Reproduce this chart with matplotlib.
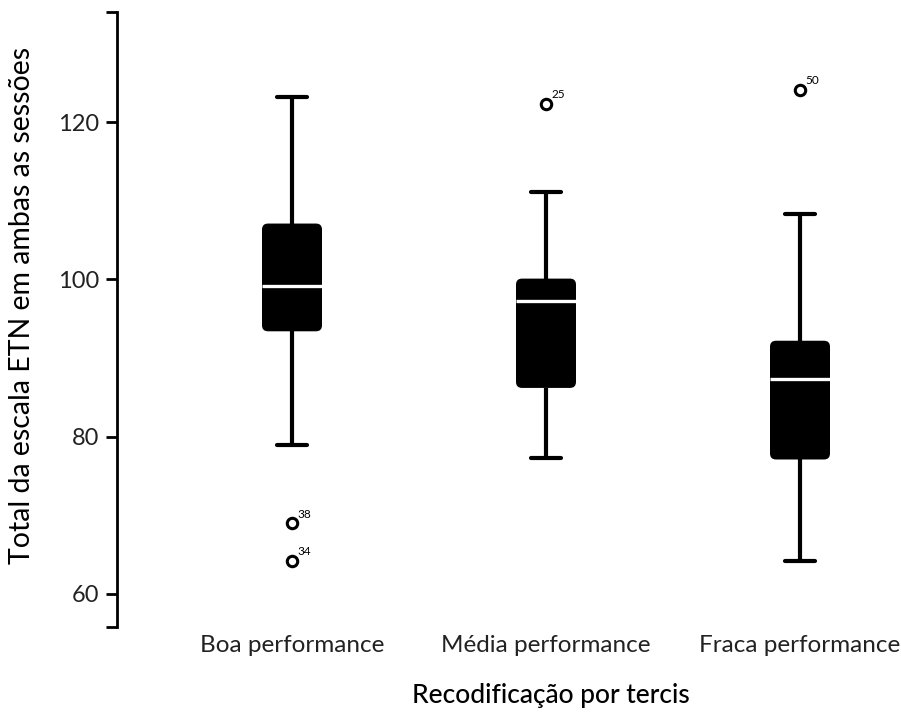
import matplotlib
matplotlib.use("Agg")
import matplotlib.pyplot as plt
from matplotlib.patches import FancyBboxPatch

plt.rcParams['font.family'] = ['Lato', 'DejaVu Sans']

categories = ["Boa performance", "Média performance", "Fraca performance"]
whisker_low = [79.0, 77.3, 64.2]
q1 = [93.4, 86.2, 77.1]
median = [99.2, 97.2, 87.3]
q3 = [107.1, 100.1, 92.2]
whisker_high = [123.2, 111.1, 108.3]
outlier_values = [[69.0, 64.2], [122.3], [124.1]]
outlier_labels = [["38", "34"], ["25"], ["50"]]
yticks = [60, 80, 100, 120]

W, H = 901, 722
fig = plt.figure(figsize=(W / 100, H / 100), dpi=100)
ax = fig.add_axes([117 / W, (H - 627) / H, (W - 117) / W, (627 - 12) / H])

positions = [1, 2, 3]
ylo, yhi = 55.8, 134.0
xlo = 1 - (292 - 117) / 254.0
xhi = 3 + (901 - 800) / 254.0
ax.set_xlim(xlo, xhi)
ax.set_ylim(ylo, yhi)

stats = []
for i in range(3):
    stats.append(dict(med=median[i], q1=q1[i], q3=q3[i], whislo=whisker_low[i],
                      whishi=whisker_high[i], fliers=outlier_values[i], label=categories[i]))

box_w = 60 / 254.0
bp = ax.bxp(stats, positions=positions, widths=box_w, patch_artist=True,
            capwidths=30 / 254.0, showfliers=True,
            boxprops=dict(facecolor='none', edgecolor='none', linewidth=0),
            whiskerprops=dict(color='black', linewidth=3.0, solid_capstyle='butt'),
            capprops=dict(color='black', linewidth=3.0, solid_capstyle='round'),
            medianprops=dict(color='none', linewidth=0),
            flierprops=dict(marker='o', markerfacecolor='white', markeredgecolor='black',
                            markersize=7.5, markeredgewidth=2.2))

# rounded boxes
xpx = (xhi - xlo) / (W - 117)
ypx = (yhi - ylo) / (627 - 12)
aspect = ypx / xpx
r = 6 * xpx
for i, p in enumerate(positions):
    box = FancyBboxPatch((p - box_w / 2, q1[i]), box_w, q3[i] - q1[i],
                         boxstyle=f"round,pad=0,rounding_size={r}",
                         mutation_aspect=aspect, facecolor='black', edgecolor='none', zorder=3)
    ax.add_patch(box)
    ax.plot([p - box_w / 2, p + box_w / 2], [median[i], median[i]], color='white',
            linewidth=2.4, solid_capstyle='butt', zorder=4)

for i, p in enumerate(positions):
    for v, lab in zip(outlier_values[i], outlier_labels[i]):
        ax.annotate(lab, (p, v), xytext=(4, 4), textcoords='offset points',
                    fontsize=8.5, color='black')

for s in ['top', 'right', 'bottom']:
    ax.spines[s].set_visible(False)
ax.spines['left'].set_linewidth(2.0)
ax.set_yticks(yticks)
ax.set_yticks([ylo, yhi], minor=True)
ax.tick_params(axis='y', which='both', length=8, width=2.0, labelsize=17, pad=5,
               labelcolor='#222222')
ax.set_xticks(positions)
ax.set_xticklabels(categories)
ax.tick_params(axis='x', length=0, labelsize=17.5, pad=6, labelcolor='#222222')
ax.set_xlabel("Recodificação por tercis", fontsize=19, fontweight='medium')
ax.xaxis.set_label_coords((551 - 117) / (W - 117), (627 - 703) / (627 - 12))
ax.xaxis.label.set_verticalalignment('baseline')
ax.set_ylabel("Total da escala ETN em ambas as sessões", fontsize=20.5)
ax.yaxis.set_label_coords((22 - 117) / (W - 117), (627 - 305) / (627 - 12))
ax.yaxis.label.set_verticalalignment('center')

fig.savefig("out.png", dpi=100)
